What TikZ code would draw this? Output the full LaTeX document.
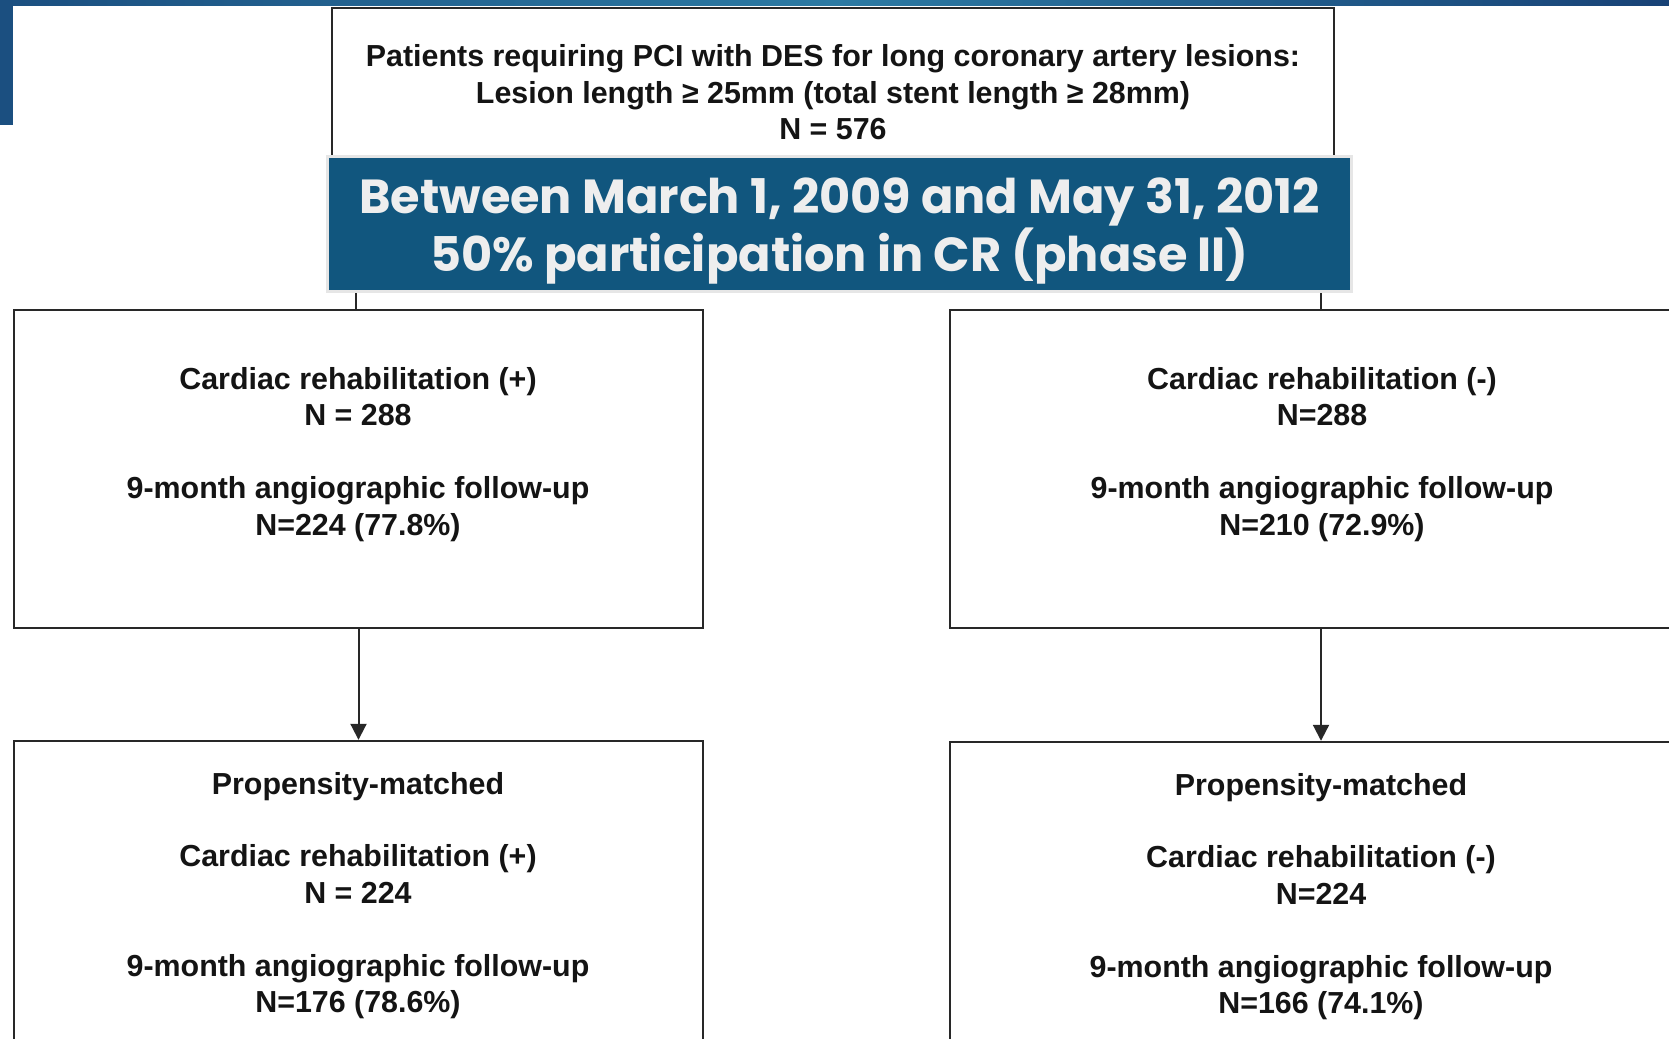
\documentclass[tikz,border=0pt]{standalone}
\usepackage{fontspec}
\setmainfont{Liberation Sans}
\newfontfamily\bannerfont{Poppins}
\usetikzlibrary{arrows.meta}

\definecolor{barleft}{RGB}{27,79,128}
\definecolor{barmid}{RGB}{44,122,163}
\definecolor{barright}{RGB}{24,66,118}
\definecolor{bannerblue}{RGB}{17,86,126}
\definecolor{bannerrim}{RGB}{230,230,230}
\definecolor{bannertext}{RGB}{238,238,238}
\definecolor{rule}{RGB}{40,40,40}

\tikzset{
  flowbox/.style={draw=rule, line width=1.2pt, fill=white, rectangle, inner sep=0pt},
  boxtext/.style={align=center, text=black!92, inner sep=0pt,
    font=\fontsize{15.2}{18.2}\selectfont\bfseries},
  banner/.style={draw=bannerrim, line width=1.5pt, fill=bannerblue, inner sep=0pt,
    minimum width=512pt, minimum height=67.5pt, align=center, text=bannertext,
    font=\bannerfont\fontsize{23.9}{29}\selectfont\bfseries},
  link/.style={draw=rule, line width=1pt},
  flow/.style={link, -{Triangle[length=8pt,width=8pt]}}
}

\begin{document}
\begin{tikzpicture}[x=0.5pt,y=-0.5pt]
\useasboundingbox (0,0) rectangle (1669,1038);

% slide decoration
\shade[left color=barleft, right color=barmid] (0,0) rectangle (835,6);
\shade[left color=barmid, right color=barright] (835,0) rectangle (1669,6);
\fill[barleft] (0,0) rectangle (13,125);

% all patients
\node[flowbox, minimum width=501pt, minimum height=136pt] (all) at (833,144) {};
\node[boxtext] (alltext) at (833,92.5) {Patients requiring PCI with DES for long coronary artery lesions:\\
Lesion length ≥ 25mm (total stent length ≥ 28mm)\\ N = 576};

% the two groups
\node[flowbox, minimum width=344.5pt, minimum height=159pt] (crp) at (358.5,469) {};
\node[flowbox, minimum width=371pt, minimum height=159pt] (crm) at (1321,469) {};
\draw[link] ([xshift=-1.2pt]crp.north |- all.south) -- ([xshift=-1.2pt]crp.north);
\draw[link] (crm.north |- all.south) -- (crm.north);

\node[banner] (period) at (839.5,224) {\rule{0pt}{25pt}Between March 1, 2009 and May 31, 2012\\ 50\% participation in CR (phase II)};

\node[boxtext] (crptext) at (358,454.5) {Cardiac rehabilitation (+)\\ N = 288\\[18.2pt]
9-month angiographic follow-up\\ N=224 (77.8\%)};
\node[boxtext] (crmtext) at (1322,454.5) {Cardiac rehabilitation (-)\\ N=288\\[18.2pt]
9-month angiographic follow-up\\ N=210 (72.9\%)};

% propensity-matched
\node[flowbox, minimum width=344.5pt, minimum height=179.5pt] (crpm) at (358.5,920.5) {};
\node[flowbox, minimum width=371pt, minimum height=179pt] (crmm) at (1321,921) {};
\draw[flow] (crp) -- (crpm);
\draw[flow] (crm) -- (crmm);

\node[boxtext] (crpmtext) at (358,895.5) {Propensity-matched\\[18.2pt]
Cardiac rehabilitation (+)\\ N = 224\\[18.2pt]
9-month angiographic follow-up\\ N=176 (78.6\%)};
\node[boxtext] (crmmtext) at (1321,896.5) {Propensity-matched\\[18.2pt]
Cardiac rehabilitation (-)\\ N=224\\[18.2pt]
9-month angiographic follow-up\\ N=166 (74.1\%)};
\end{tikzpicture}
\end{document}
